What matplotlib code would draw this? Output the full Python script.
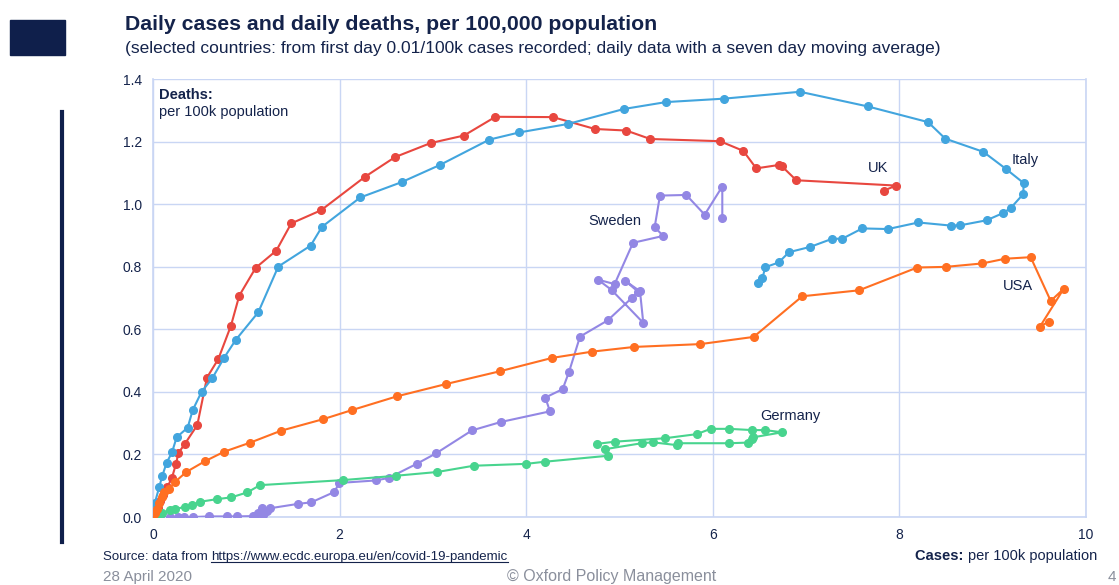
import matplotlib
matplotlib.use('Agg')
import matplotlib.pyplot as plt
from matplotlib.lines import Line2D
from matplotlib.patches import Rectangle

plt.rcParams['font.family'] = ['Liberation Sans', 'DejaVu Sans']

NAVY = '#14234B'
GRID = '#C9D6F4'
GREY = '#8A8F9C'

# ── Data: cases per 100k (x) vs deaths per 100k (y), 7-day averages ──────────
uk_cases = [0, 0.02, 0.05, 0.08, 0.110, 0.153, 0.204, 0.247, 0.273, 0.340, 0.475,
            0.579, 0.700, 0.836, 0.925, 1.101, 1.322, 1.482, 1.801, 2.272, 2.594,
            2.976, 3.333, 3.671, 4.287, 4.737, 5.073, 5.330, 6.077, 6.327, 6.466,
            6.71, 6.74, 6.895, 7.967, 7.832]
uk_deaths = [0, 0.01, 0.03, 0.05, 0.070, 0.095, 0.126, 0.170, 0.205, 0.233, 0.294,
             0.446, 0.505, 0.612, 0.708, 0.797, 0.852, 0.939, 0.981, 1.088, 1.151,
             1.196, 1.220, 1.280, 1.279, 1.241, 1.236, 1.209, 1.202, 1.171, 1.115,
             1.126, 1.122, 1.077, 1.060, 1.044]

italy_cases = [0, 0.021, 0.068, 0.100, 0.147, 0.204, 0.254, 0.372, 0.426, 0.522,
               0.636, 0.764, 0.886, 1.129, 1.343, 1.690, 1.811, 2.222, 2.665, 3.076,
               3.605, 3.926, 4.448, 5.048, 5.498, 6.120, 6.935, 7.663, 8.307, 8.492,
               8.899, 9.139, 9.332, 9.328, 9.193, 9.110, 8.935, 8.653, 8.553, 8.203,
               7.878, 7.602, 7.388, 7.281, 7.045, 6.817, 6.706, 6.563, 6.531, 6.481]
italy_deaths = [0, 0.046, 0.097, 0.132, 0.174, 0.207, 0.255, 0.286, 0.342, 0.401,
                0.444, 0.510, 0.566, 0.655, 0.801, 0.868, 0.928, 1.022, 1.071, 1.126,
                1.207, 1.230, 1.257, 1.305, 1.327, 1.338, 1.360, 1.313, 1.263, 1.210,
                1.168, 1.114, 1.068, 1.033, 0.988, 0.972, 0.949, 0.933, 0.932, 0.942,
                0.921, 0.923, 0.890, 0.890, 0.864, 0.847, 0.814, 0.799, 0.763, 0.748]

sweden_cases = [0, 0.072, 0.179, 0.268, 0.332, 0.432, 0.603, 0.790, 0.897, 1.075,
                1.129, 1.165, 1.182, 1.219, 1.254, 1.554, 1.697, 1.943, 1.997, 2.390,
                2.526, 2.826, 3.036, 3.419, 3.730, 4.255, 4.205, 4.391, 4.459, 4.577,
                4.874, 5.137, 5.198, 5.059, 5.220, 5.255, 4.916, 4.770, 4.948, 5.145,
                5.469, 5.377, 5.434, 5.716, 5.913, 6.102, 6.102]
sweden_deaths = [0, 0, 0, 0, 0, 0, 0.002, 0.002, 0.002, 0.003,
                 0.012, 0.028, 0.006, 0.020, 0.028, 0.042, 0.047, 0.080, 0.109, 0.117,
                 0.125, 0.170, 0.204, 0.277, 0.304, 0.338, 0.382, 0.409, 0.464, 0.577,
                 0.629, 0.702, 0.721, 0.756, 0.722, 0.621, 0.726, 0.759, 0.745, 0.877,
                 0.899, 0.927, 1.028, 1.030, 0.967, 1.057, 0.956]

germany_cases = [0, 0.05, 0.10, 0.185, 0.236, 0.343, 0.415, 0.509, 0.683, 0.841,
                 1.013, 1.147, 2.033, 2.605, 3.047, 3.437, 3.998, 4.205, 4.880, 4.845,
                 5.238, 5.356, 5.613, 5.630, 6.177, 6.374, 6.417, 6.434, 6.745, 6.559,
                 6.423, 6.177, 5.977, 5.827, 5.488, 4.952, 4.762]
germany_deaths = [0, 0.005, 0.012, 0.022, 0.026, 0.032, 0.038, 0.049, 0.057, 0.063,
                  0.079, 0.102, 0.118, 0.132, 0.144, 0.164, 0.170, 0.177, 0.196, 0.217,
                  0.236, 0.239, 0.230, 0.236, 0.236, 0.238, 0.250, 0.255, 0.271, 0.278,
                  0.278, 0.282, 0.282, 0.265, 0.252, 0.241, 0.234]

usa_cases = [0, 0.02, 0.04, 0.06, 0.093, 0.121, 0.175, 0.239, 0.357, 0.554, 0.764,
             1.043, 1.372, 1.825, 2.133, 2.615, 3.137, 3.716, 4.280, 4.709, 5.159,
             5.866, 6.438, 6.959, 7.567, 8.192, 8.496, 8.889, 9.132, 9.407, 9.622,
             9.761, 9.507, 9.600]
usa_deaths = [0, 0.012, 0.025, 0.045, 0.065, 0.081, 0.091, 0.113, 0.144, 0.178, 0.209,
              0.238, 0.276, 0.313, 0.342, 0.386, 0.425, 0.466, 0.509, 0.529, 0.544,
              0.553, 0.576, 0.706, 0.725, 0.798, 0.800, 0.811, 0.826, 0.831, 0.691,
              0.730, 0.609, 0.625]

# ── Series styles and label spots ────────────────────────────────────────────
SERIES = [
    ('UK', uk_cases, uk_deaths, '#E8473F', (7.77, 1.117)),
    ('Italy', italy_cases, italy_deaths, '#42A5DE', (9.35, 1.142)),
    ('Sweden', sweden_cases, sweden_deaths, '#9387E4', (4.95, 0.947)),
    ('Germany', germany_cases, germany_deaths, '#48D48E', (6.83, 0.323)),
    ('USA', usa_cases, usa_deaths, '#FF6F22', (9.27, 0.739)),
]

fig = plt.figure(figsize=(11.19, 5.85), dpi=100)
ax = fig.add_axes([0.1367, 0.1162, 0.8338, 0.7483])

for name, xs, ys, color, (lx, ly) in SERIES:
    ax.plot(xs, ys, color=color, lw=1.5, marker='o', ms=5.5, mec=color, mfc=color,
            solid_joinstyle='round', zorder=3)
    ax.text(lx, ly, name, ha='center', va='center', fontsize=10.5, color=NAVY, zorder=4)

ax.set_xlim(0, 10)
ax.set_ylim(0, 1.4)
ax.set_xticks([0, 2, 4, 6, 8, 10])
ax.set_yticks([0.0, 0.2, 0.4, 0.6, 0.8, 1.0, 1.2, 1.4])
ax.set_yticklabels([f'{v:.1f}' for v in ax.get_yticks()])
ax.grid(True, color=GRID, lw=1.0, zorder=0)
ax.set_axisbelow(True)
for side in ax.spines:
    ax.spines[side].set_color(GRID)
    ax.spines[side].set_linewidth(1.2)
ax.spines['top'].set_visible(False)
ax.tick_params(length=0, labelsize=10, colors=NAVY, pad=8)

ax.text(0.006, 0.965, 'Deaths:', transform=ax.transAxes, fontsize=10.5,
        fontweight='bold', color=NAVY, va='center')
ax.text(0.006, 0.925, 'per 100k population', transform=ax.transAxes, fontsize=10.5,
        color=NAVY, va='center')

# ── Slide decoration and titles ──────────────────────────────────────────────
fig.patches.append(Rectangle((10 / 1119, 1 - 55 / 585), 55 / 1119, 35 / 585,
                             transform=fig.transFigure, color='#0F1F4B'))
fig.lines.append(Line2D([62 / 1119, 62 / 1119], [1 - 112 / 585, 1 - 542 / 585],
                        transform=fig.transFigure, color='#0F1F4B', lw=3))

fig.text(125 / 1119, 1 - 25 / 585, 'Daily cases and daily deaths, per 100,000 population',
         fontsize=15.3, fontweight='bold', color=NAVY, va='center')
fig.text(125 / 1119, 1 - 49 / 585,
         '(selected countries: from first day 0.01/100k cases recorded; '
         'daily data with a seven day moving average)',
         fontsize=12.5, color=NAVY, va='center')

# footer
src = fig.text(103 / 1119, 1 - 557 / 585, 'Source: data from ', fontsize=9.5,
               color=NAVY, va='center')
fig.canvas.draw()
bb = src.get_window_extent()
link = fig.text(bb.x1 / fig.bbox.width, 1 - 557 / 585,
                'https://www.ecdc.europa.eu/en/covid-19-pandemic',
                fontsize=9.5, color=NAVY, va='center')
fig.canvas.draw()
lb = link.get_window_extent()
fig.lines.append(Line2D([lb.x0 / fig.bbox.width, lb.x1 / fig.bbox.width],
                        [(lb.y0 + 1) / fig.bbox.height] * 2,
                        transform=fig.transFigure, color=NAVY, lw=0.8))

cases = fig.text(1097 / 1119, 1 - 556 / 585, 'per 100k population', fontsize=10.5,
                 color=NAVY, ha='right', va='center')
fig.canvas.draw()
cb = cases.get_window_extent()
fig.text(cb.x0 / fig.bbox.width, 1 - 556 / 585, 'Cases: ', fontsize=10.5,
         fontweight='bold', color=NAVY, ha='right', va='center')

fig.text(103 / 1119, 1 - 577 / 585, '28 April 2020', fontsize=11, color=GREY,
         va='center')
fig.text(612 / 1119, 1 - 577 / 585, '\u00a9 Oxford Policy Management', fontsize=11.5,
         color=GREY, va='center', ha='center')
fig.text(1116 / 1119, 1 - 577 / 585, '4', fontsize=11, color=GREY, va='center',
         ha='right')

fig.savefig('out.png', dpi=100)
